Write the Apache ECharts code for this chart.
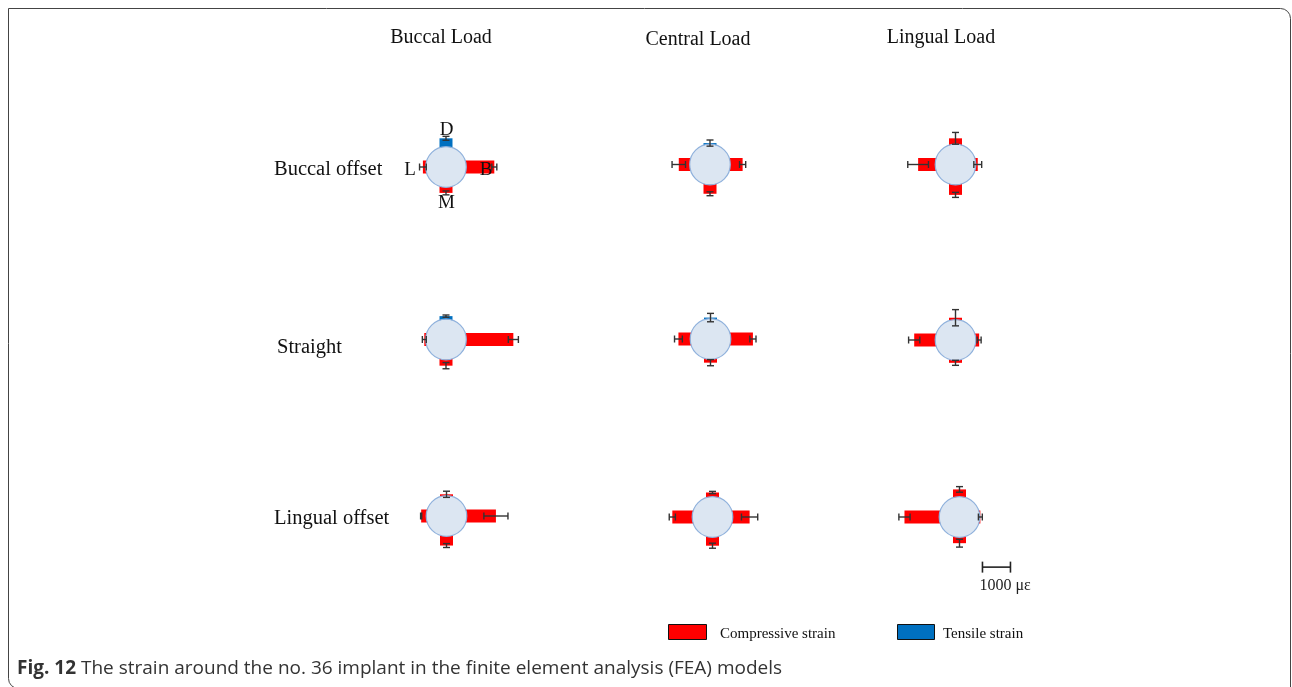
<!DOCTYPE html>
<html>
<head>
<meta charset="utf-8">
<script src="https://cdn.jsdelivr.net/npm/echarts@6/dist/echarts.min.js"></script>
<style>
  html, body { margin: 0; padding: 0; background: #fff; }
  #chart { width: 1292px; height: 687px; }
</style>
</head>
<body>
<div id="chart"></div>
<script>
// ---- data -------------------------------------------------------------
// Column headings (load position) and row headings (implant offset)
const loadNames = ['Buccal Load', 'Central Load', 'Lingual Load'];
const offsetNames = ['Buccal offset', 'Straight', 'Lingual offset'];
// Directions around the implant, in the order used by every strain list
const directionNames = ['D', 'B', 'M', 'L'];

// Strain in µε around the implant (D, B, M, L); tensile > 0, compressive < 0.
// One list per load: Buccal, Central, Lingual.
const strainBuccalOffset = [
  [300, -1000, -200, -100],
  [40, -440, -320, -390],
  [-210, -70, -360, -610]
];
const strainStraight = [
  [110, -1680, -210, -50],
  [40, -790, -120, -420],
  [-70, -120, -90, -750]
];
const strainLingualOffset = [
  [-50, -1040, -330, -180],
  [-150, -600, -300, -710],
  [-260, -20, -210, -1240]
];

// Standard deviation (µε) of each strain value above
const errorBuccalOffset = [
  [70, 90, 70, 120],
  [110, 110, 70, 240],
  [210, 140, 90, 370]
];
const errorStraight = [
  [40, 180, 110, 70],
  [150, 110, 110, 140],
  [290, 70, 90, 200]
];
const errorLingualOffset = [
  [110, 430, 70, 20],
  [40, 290, 90, 110],
  [100, 70, 140, 200]
];

// Scale bar length (µε)
const scaleBarValue = 1000;
const legendNames = ['Compressive strain', 'Tensile strain'];

// ---- layout & style ---------------------------------------------------
const PX_PER_UE = 0.028;          // drawing scale: pixels per µε
const HALF_RANGE = 3500;          // each panel axis spans ±HALF_RANGE µε
const IMPLANT_R = 725;            // implant outline radius, in µε of drawing scale
const BAR_W = 13;                 // bar thickness (px)
const CAP = 7;                    // error-bar cap length (px)
const COMPRESSIVE = '#ff0000';
const TENSILE = '#0070c0';
const SERIF = '"Liberation Serif", "DejaVu Serif", serif';
const SANS = '"Open Sans", "Noto Sans", sans-serif';

// Panel centres (px), rows = offsets, columns = loads
const panelCentres = [
  [[446, 167], [710, 164.5], [955.5, 164.5]],
  [[446, 339.5], [710.5, 339], [955.5, 340]],
  [[446.5, 516], [712.5, 517], [959.5, 517]]
];
// Scale bar placed in the last panel's coordinates (µε)
const SCALE_X0 = 820, SCALE_Y = -1790;

const strainRows = [strainBuccalOffset, strainStraight, strainLingualOffset];
const errorRows = [errorBuccalOffset, errorStraight, errorLingualOffset];

// unit vectors for D (up), B (right), M (down), L (left); y axis points up
const dirVec = [[0, 1], [1, 0], [0, -1], [-1, 0]];
function along(api, d, t) {
  const v = dirVec[d];
  return api.coord([v[0] * t, v[1] * t]);
}

function renderBar(params, api) {
  const d = api.value(0);
  const v = api.value(1);
  const s = Math.abs(v);
  const p0 = along(api, d, IMPLANT_R - 90);   // tucked under the implant outline
  const p1 = along(api, d, IMPLANT_R + s);
  const h = BAR_W / 2;
  let shape;
  if (d % 2 === 1) {
    shape = { x: Math.min(p0[0], p1[0]), y: p0[1] - h, width: Math.abs(p1[0] - p0[0]), height: BAR_W };
  } else {
    shape = { x: p0[0] - h, y: Math.min(p0[1], p1[1]), width: BAR_W, height: Math.abs(p1[1] - p0[1]) };
  }
  return { type: 'rect', shape: shape, style: { fill: v > 0 ? TENSILE : COMPRESSIVE } };
}

function renderImplant(params, api) {
  const c = api.coord([0, 0]);
  const r = api.size([IMPLANT_R, 0])[0];
  return {
    type: 'circle',
    shape: { cx: c[0], cy: c[1], r: r },
    style: { fill: '#dce6f2', stroke: '#8fb1dc', lineWidth: 1.2 }
  };
}

function renderError(params, api) {
  const d = api.value(0);
  const s = Math.abs(api.value(1));
  const e = api.value(2);
  const a = along(api, d, IMPLANT_R + s - e);
  const b = along(api, d, IMPLANT_R + s + e);
  const k = CAP / 2;
  const horiz = d % 2 === 1;
  const cap = (p) => horiz
    ? { x1: p[0], y1: p[1] - k, x2: p[0], y2: p[1] + k }
    : { x1: p[0] - k, y1: p[1], x2: p[0] + k, y2: p[1] };
  const st = { stroke: '#333', lineWidth: 1.4 };
  return {
    type: 'group',
    children: [
      { type: 'line', shape: { x1: a[0], y1: a[1], x2: b[0], y2: b[1] }, style: st },
      { type: 'line', shape: cap(a), style: st },
      { type: 'line', shape: cap(b), style: st }
    ]
  };
}

function renderScale(params, api) {
  const a = api.coord([SCALE_X0, SCALE_Y]);
  const b = api.coord([SCALE_X0 + api.value(0), SCALE_Y]);
  const st = { stroke: '#222', lineWidth: 1.6 };
  return {
    type: 'group',
    children: [
      { type: 'line', shape: { x1: a[0], y1: a[1], x2: b[0], y2: b[1] }, style: st },
      { type: 'line', shape: { x1: a[0], y1: a[1] - 5.5, x2: a[0], y2: a[1] + 5.5 }, style: st },
      { type: 'line', shape: { x1: b[0], y1: b[1] - 5.5, x2: b[0], y2: b[1] + 5.5 }, style: st },
      {
        type: 'text',
        style: {
          x: a[0] - 3, y: a[1] + 19, text: scaleBarValue + ' με',
          font: '16px ' + SERIF, fill: '#222', verticalAlign: 'middle', align: 'left'
        }
      }
    ]
  };
}

// ---- build option -----------------------------------------------------
const halfPx = HALF_RANGE * PX_PER_UE;
const grid = [], xAxis = [], yAxis = [], series = [];
for (let r = 0; r < 3; r++) {
  for (let c = 0; c < 3; c++) {
    const gi = grid.length;
    const [cx, cy] = panelCentres[r][c];
    grid.push({ left: cx - halfPx, top: cy - halfPx, width: 2 * halfPx, height: 2 * halfPx });
    xAxis.push({ gridIndex: gi, type: 'value', min: -HALF_RANGE, max: HALF_RANGE, show: false });
    yAxis.push({ gridIndex: gi, type: 'value', min: -HALF_RANGE, max: HALF_RANGE, show: false });
    const strain = strainRows[r][c];
    const err = errorRows[r][c];
    const name = offsetNames[r] + ' / ' + loadNames[c];
    series.push({
      type: 'custom', name: name + ' strain', xAxisIndex: gi, yAxisIndex: gi,
      renderItem: renderBar, silent: true, z: 2,
      data: strain.map((v, d) => [d, v])
    });
    series.push({
      type: 'custom', name: name + ' implant', xAxisIndex: gi, yAxisIndex: gi,
      renderItem: renderImplant, silent: true, z: 3,
      data: [[0, 0]]
    });
    series.push({
      type: 'custom', name: name + ' SD', xAxisIndex: gi, yAxisIndex: gi,
      renderItem: renderError, silent: true, z: 4,
      data: strain.map((v, d) => [d, v, err[d]])
    });
  }
}
series.push({
  type: 'custom', name: 'scale', xAxisIndex: 8, yAxisIndex: 8,
  renderItem: renderScale, silent: true, z: 5,
  data: [[scaleBarValue, 0]]
});

const txt = (x, y, text, size, align, extra) => Object.assign({
  type: 'text', x: x, y: y,
  style: { text: text, font: size + 'px ' + SERIF, fill: '#111', align: align || 'left', verticalAlign: 'middle' }
}, extra || {});

const graphic = [
  {
    type: 'rect', shape: { x: 8.5, y: 8.5, width: 1282, height: 680, r: [0, 10, 0, 10] },
    style: { fill: 'none', stroke: '#444', lineWidth: 1 }
  },
  txt(441, 38, loadNames[0], 20, 'center'),
  txt(698, 40, loadNames[1], 20, 'center'),
  txt(941, 38, loadNames[2], 20, 'center'),
  txt(274, 170, offsetNames[0], 20.5),
  txt(277, 348, offsetNames[1], 20.5),
  txt(274, 519, offsetNames[2], 20.5),
  // direction labels around the first implant
  txt(446.5, 130, directionNames[0], 19, 'center', { z: 10 }),
  txt(486, 170, directionNames[1], 19, 'center', { z: 10 }),
  txt(446.5, 203, directionNames[2], 19, 'center', { z: 10 }),
  txt(410, 170, directionNames[3], 19, 'center', { z: 10 }),
  // legend
  { type: 'rect', shape: { x: 668.5, y: 624.5, width: 38, height: 15 }, style: { fill: COMPRESSIVE, stroke: '#111', lineWidth: 1 } },
  txt(720, 634, legendNames[0], 15),
  { type: 'rect', shape: { x: 897.5, y: 624.5, width: 37, height: 15 }, style: { fill: TENSILE, stroke: '#111', lineWidth: 1 } },
  txt(943, 634, legendNames[1], 15),
  // caption
  {
    type: 'text', x: 17, y: 669,
    style: {
      text: '{b|Fig. 12} The strain around the no. 36 implant in the finite element analysis (FEA) models',
      font: '19px ' + SANS, fill: '#333', verticalAlign: 'middle',
      rich: { b: { fontWeight: 'bold', fontSize: 19, fontFamily: SANS, fill: '#333' } }
    }
  }
];

const chart = echarts.init(document.getElementById('chart'), null, { renderer: 'canvas' });
chart.setOption({
  animation: false,
  backgroundColor: '#fff',
  grid: grid, xAxis: xAxis, yAxis: yAxis,
  series: series,
  graphic: graphic
});
</script>
</body>
</html>
